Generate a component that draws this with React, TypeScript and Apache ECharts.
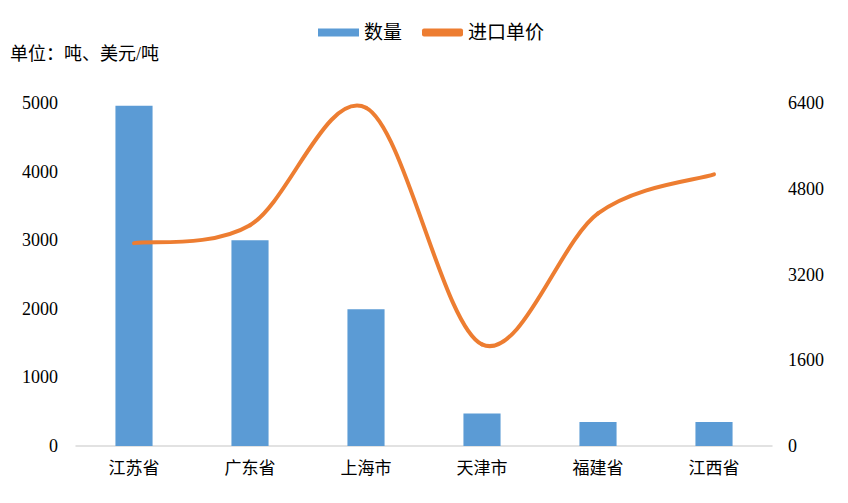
import React, { useEffect, useRef } from "react";
import * as echarts from "echarts";

const categories = ["江苏省", "广东省", "上海市", "天津市", "福建省", "江西省"];
const quantity = [4960, 3000, 1995, 475, 350, 350];
const unitPrice = [3785, 4120, 6310, 1895, 4340, 5070];
const unitNote = "单位：吨、美元/吨";

export default function App() {
  const ref = useRef<HTMLDivElement>(null);
  useEffect(() => {
    const chart = echarts.init(ref.current!, null, { renderer: "svg" });
    const serif = "'Liberation Serif', 'Times New Roman', 'Noto Sans CJK SC', serif";
    const K = 1 / 6; // Catmull-Rom style smoothing (like Excel)
    const renderSegment = (params: any, api: any) => {
      const i = params.dataIndex;
      const n = unitPrice.length;
      if (i >= n - 1) return null;
      const clampIdx = (j: number) => Math.max(0, Math.min(n - 1, j));
      const pt = (j: number) => api.coord([clampIdx(j), unitPrice[clampIdx(j)]]);
      const p0 = pt(i - 1);
      const p1 = pt(i);
      const p2 = pt(i + 1);
      const p3 = pt(i + 2);
      return {
        type: "bezierCurve",
        z2: 10,
        shape: {
          x1: p1[0],
          y1: p1[1],
          x2: p2[0],
          y2: p2[1],
          cpx1: p1[0] + (p2[0] - p0[0]) * K,
          cpy1: p1[1] + (p2[1] - p0[1]) * K,
          cpx2: p2[0] - (p3[0] - p1[0]) * K,
          cpy2: p2[1] - (p3[1] - p1[1]) * K,
        },
        style: { stroke: "#ED7D31", lineWidth: 4, fill: "none", lineCap: "round" },
      };
    };
    chart.setOption({
      animation: false,
      backgroundColor: "#ffffff",
      textStyle: { fontFamily: serif, color: "#000" },
      graphic: [
        {
          type: "text",
          left: 10,
          top: 45,
          style: { text: unitNote, font: "18px " + serif, fill: "#000" },
        },
      ],
      legend: {
        top: 18,
        left: 313,
        itemGap: 20,
        itemWidth: 41,
        itemHeight: 8,
        textStyle: { fontFamily: serif, fontSize: 19, color: "#000" },
        data: [
          { name: "数量", icon: "rect" },
          { name: "进口单价", icon: "roundRect" },
        ],
      },
      grid: { left: 76, right: 76, top: 103, bottom: 57, containLabel: false },
      xAxis: {
        type: "category",
        data: categories,
        axisLine: { lineStyle: { color: "#D9D9D9", width: 1.5 } },
        axisTick: { show: false },
        axisLabel: { fontFamily: serif, fontSize: 17, color: "#000", margin: 14 },
      },
      yAxis: [
        {
          type: "value",
          min: 0,
          max: 5000,
          interval: 1000,
          splitLine: { show: false },
          axisLine: { show: false },
          axisTick: { show: false },
          axisLabel: {
            fontFamily: serif,
            fontSize: 18,
            color: "#000",
            margin: 18,
            formatter: (v: number) => String(v),
          },
        },
        {
          type: "value",
          min: 0,
          max: 6400,
          interval: 1600,
          splitLine: { show: false },
          axisLine: { show: false },
          axisTick: { show: false },
          axisLabel: {
            fontFamily: serif,
            fontSize: 18,
            color: "#000",
            margin: 16,
            formatter: (v: number) => String(v),
          },
        },
      ],
      series: [
        {
          name: "数量",
          type: "bar",
          z: 2,
          data: quantity,
          barWidth: "32%",
          itemStyle: { color: "#5B9BD5" },
        },
        {
          name: "进口单价",
          type: "custom",
          z: 5,
          coordinateSystem: "cartesian2d",
          xAxisIndex: 0,
          yAxisIndex: 1,
          clip: false,
          data: unitPrice.map((v, i) => [i, v]),
          encode: { x: 0, y: 1 },
          renderItem: renderSegment,
          itemStyle: { color: "#ED7D31" },
        },
      ],
    });
    return () => chart.dispose();
  }, []);
  return (
    <div
      ref={ref}
      style={{ position: "fixed", left: 0, top: 0, width: 848, height: 503 }}
    />
  );
}
